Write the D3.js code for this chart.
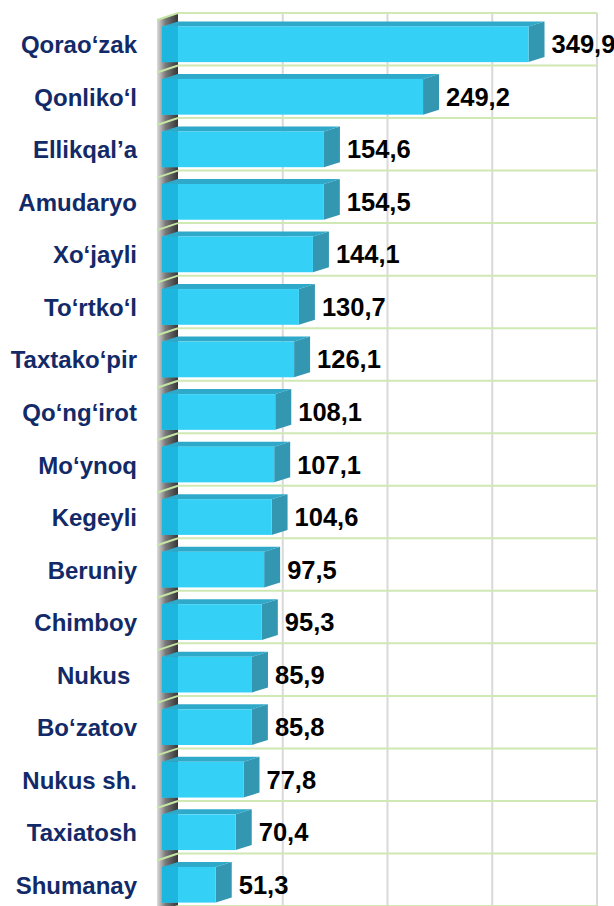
<!DOCTYPE html>
<html>
<head>
<meta charset="utf-8">
<script src="https://cdn.jsdelivr.net/npm/d3@7"></script>
<style>
  html, body { margin: 0; padding: 0; background: #fff; }
  svg { display: block; }
</style>
</head>
<body>
<div id="chart"></div>
<script>
/* ── data ─────────────────────────────────────────────── */
const districts = ['Qorao‘zak', 'Qonliko‘l', 'Ellikqal’a', 'Amudaryo', 'Xo‘jayli', 'To‘rtko‘l',
  'Taxtako‘pir', 'Qo‘ng‘irot', 'Mo‘ynoq', 'Kegeyli', 'Beruniy', 'Chimboy', 'Nukus ',
  'Bo‘zatov', 'Nukus sh.', 'Taxiatosh', 'Shumanay'];
const values = [349.9, 249.2, 154.6, 154.5, 144.1, 130.7, 126.1, 108.1, 107.1, 104.6,
  97.5, 95.3, 85.9, 85.8, 77.8, 70.4, 51.3];
const gridTicks = [100, 200, 300, 400];

/* ── layout ───────────────────────────────────────────── */
const W = 614, H = 906;
const DX = 16, DY = 5;          // 3d depth offset of bars
const WALL_L = 157;             // left edge of the side wall

const data = districts.map((d, i) => ({ name: d, value: values[i] }));

const svg = d3.select('#chart').append('svg')
  .attr('width', W).attr('height', H);

const x = d3.scaleLinear().domain([0, 400]).range([178, 597]);
const y = d3.scaleBand().domain(districts).range([13, 906])
  .paddingInner(0.32).paddingOuter(0.16);
const step = y.step();
const bw = y.bandwidth();

const fmt = v => d3.format('.1f')(v).replace('.', ',');

/* side wall gradient */
const defs = svg.append('defs');
const grad = defs.append('linearGradient').attr('id', 'wall')
  .attr('x1', 0).attr('x2', 1).attr('y1', 0).attr('y2', 0);
grad.append('stop').attr('offset', '0%').attr('stop-color', '#dcdcdc');
grad.append('stop').attr('offset', '40%').attr('stop-color', '#7a7a7a');
grad.append('stop').attr('offset', '100%').attr('stop-color', '#363636');

svg.append('path')
  .attr('d', `M${x(0)},13 L${x(0)},${H} L${WALL_L},${H} L${WALL_L},20 Z`)
  .attr('fill', 'url(#wall)');

/* vertical grid on back wall */
svg.append('g').selectAll('line').data(gridTicks).join('line')
  .attr('x1', d => x(d)).attr('x2', d => x(d))
  .attr('y1', 13).attr('y2', H)
  .attr('stroke', '#d9d9d9').attr('stroke-width', 2);

/* category grid lines (back wall + side wall) */
const bounds = d3.range(districts.length + 1).map(k => 13 + k * step);
const cg = svg.append('g');
cg.selectAll('line').data(bounds).join('line')
  .attr('x1', x(0)).attr('x2', x(400))
  .attr('y1', d => d).attr('y2', d => d)
  .attr('stroke', '#cfe8b4').attr('stroke-width', 2);
cg.selectAll('path').data(bounds).join('path')
  .attr('d', d => `M${x(0)},${d} L${WALL_L},${d + 7}`)
  .attr('stroke', '#c5e6a3').attr('stroke-width', 2).attr('fill', 'none');

/* bars */
const bars = svg.append('g').selectAll('g').data(data).join('g');

bars.append('path')   // top face
  .attr('d', d => {
    const y0 = y(d.name), xe = x(d.value);
    return `M${x(0) - DX},${y0 + DY} L${x(0)},${y0} L${xe},${y0} L${xe - DX},${y0 + DY} Z`;
  })
  .attr('fill', '#2fa9ca');

bars.append('path')   // right side face
  .attr('d', d => {
    const y0 = y(d.name), xe = x(d.value);
    return `M${xe - DX},${y0 + DY} L${xe},${y0} L${xe},${y0 + bw} L${xe - DX},${y0 + bw + DY} Z`;
  })
  .attr('fill', '#3497b2');

bars.append('rect')   // front face
  .attr('x', x(0) - DX).attr('y', d => y(d.name) + DY)
  .attr('width', d => x(d.value) - x(0))
  .attr('height', bw)
  .attr('fill', '#34d0f6');

bars.append('rect')   // part of front face in front of the wall
  .attr('x', x(0) - DX).attr('y', d => y(d.name) + DY)
  .attr('width', DX).attr('height', bw)
  .attr('fill', '#1db6de');

/* value labels */
bars.append('text')
  .attr('x', d => x(d.value) + 7)
  .attr('y', d => y(d.name) + DY + bw / 2 + 9)
  .attr('font-family', 'Liberation Sans, Arial, sans-serif')
  .attr('font-weight', 'bold').attr('font-size', 25.5)
  .attr('fill', '#000')
  .text(d => fmt(d.value));

/* category labels */
svg.append('g').selectAll('text').data(data).join('text')
  .attr('x', 137)
  .attr('y', d => y(d.name) + DY + bw / 2 + 9)
  .attr('text-anchor', 'end')
  .attr('xml:space', 'preserve')
  .style('white-space', 'pre')
  .attr('font-family', 'Liberation Sans, Arial, sans-serif')
  .attr('font-weight', 'bold').attr('font-size', 24)
  .attr('fill', '#132a68')
  .text(d => d.name);
</script>
</body>
</html>
